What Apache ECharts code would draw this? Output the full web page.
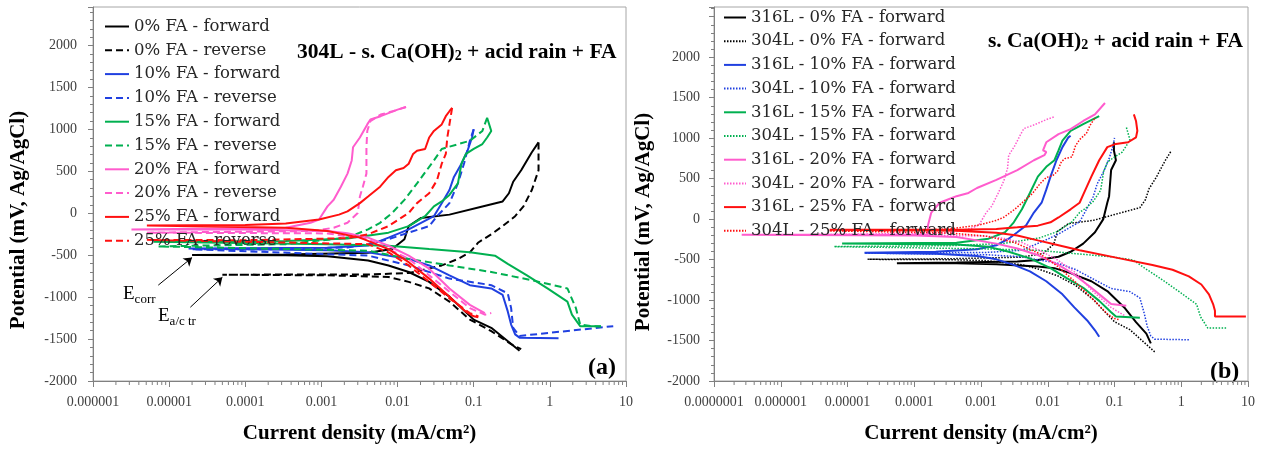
<!DOCTYPE html>
<html>
<head>
<meta charset="utf-8">
<script src="https://cdn.jsdelivr.net/npm/echarts@6/dist/echarts.min.js"></script>
<style>
html,body{margin:0;padding:0;background:#fff;}
#chart{width:1270px;height:449px;}
</style>
</head>
<body>
<div id="chart"></div>
<script>
// tick labels of the two log axes
const xTicksA = ['0.000001', '0.00001', '0.0001', '0.001', '0.01', '0.1', '1', '10'];
const xTicksB = ['0.0000001', '0.000001', '0.00001', '0.0001', '0.001', '0.01', '0.1', '1', '10'];

const faLevels = ['0%', '10%', '15%', '20%', '25%'];
const colors = ['#000000', '#2040e0', '#00b050', '#ff5ccd', '#ff1010'];

// (a) 304L, [current density mA/cm2, potential mV]
const a0Fwd = [[0.40,-1640],[0.17,-1366],[0.1,-1268],[0.048,-994],[0.026,-818],[0.014,-700],[0.0076,-622],[0.0041,-563],[0.0012,-513],[3.4e-4,-501],[2.0e-5,-497],[3.4e-4,-490],[0.0041,-470],[0.0085,-426],[0.0123,-309],[0.014,-153],[0.0204,-55],[0.048,-16],[0.13,82],[0.24,141],[0.29,239],[0.33,376],[0.42,513],[0.50,630],[0.58,728],[0.71,845]];
const a0Rev = [[0.71,845],[0.71,513],[0.58,278],[0.45,82],[0.35,-35],[0.24,-153],[0.17,-250],[0.115,-348],[0.089,-466],[0.062,-544],[0.038,-622],[0.0204,-681],[0.014,-712],[0.0041,-730],[5.0e-5,-732],[0.0012,-740],[0.0076,-759],[0.014,-818],[0.026,-896],[0.048,-1053],[0.089,-1268],[0.17,-1405],[0.31,-1561],[0.42,-1620]];
const a10Fwd = [[1.3,-1491],[0.40,-1483],[0.35,-1444],[0.31,-1327],[0.28,-1170],[0.24,-974],[0.17,-896],[0.089,-857],[0.048,-740],[0.026,-622],[0.014,-544],[0.0041,-466],[0.0012,-440],[1.8e-5,-420],[0.0012,-412],[0.0041,-385],[0.0076,-290],[0.014,-192],[0.03,-35],[0.038,121],[0.048,278],[0.055,434],[0.069,591],[0.083,747],[0.095,904],[0.1,1002]];
const a10Rev = [[0.1,1002],[0.089,865],[0.075,600],[0.062,356],[0.048,121],[0.033,-35],[0.026,-153],[0.014,-231],[0.0076,-309],[0.0041,-368],[0.0022,-407],[3.4e-4,-427],[2.0e-5,-430],[0.0041,-505],[0.014,-622],[0.048,-779],[0.17,-857],[0.28,-955],[0.31,-1131],[0.33,-1366],[0.40,-1463],[6.8,-1346]];
const a15Fwd = [[4.7,-1346],[2.5,-1346],[1.95,-1209],[1.7,-1053],[0.93,-896],[0.50,-740],[0.28,-603],[0.19,-505],[0.089,-466],[0.026,-427],[0.0076,-387],[0.0012,-368],[6.3e-6,-340],[3.4e-4,-329],[0.0022,-301],[0.0076,-231],[0.014,-153],[0.023,-35],[0.030,82],[0.038,141],[0.048,219],[0.062,356],[0.069,591],[0.079,708],[0.1,767],[0.13,826],[0.15,904],[0.17,982],[0.15,1139]];
const a15Rev = [[0.15,1139],[0.13,982],[0.089,865],[0.038,767],[0.030,630],[0.018,356],[0.0123,160],[0.0085,4],[0.0059,-113],[0.0041,-192],[0.0022,-290],[3.4e-4,-368],[7.2e-6,-395],[0.0041,-446],[0.014,-544],[0.048,-622],[0.17,-700],[0.58,-798],[1.7,-896],[2.2,-1131],[2.5,-1327],[3.6,-1346],[4.7,-1350]];
const a20Fwd = [[0.14,-1190],[0.089,-1092],[0.048,-896],[0.026,-661],[0.014,-505],[0.0076,-387],[0.0041,-290],[0.0022,-239],[0.0012,-211],[1e-4,-194],[3.2e-6,-192],[3.4e-4,-172],[7.2e-4,-113],[9.3e-4,-74],[0.0012,82],[0.00145,161],[0.0018,317],[0.0022,473],[0.0025,630],[0.0026,787],[0.0032,904],[0.0040,1060],[0.0044,1119],[0.0060,1158],[0.01,1236],[0.0129,1268]];
const a20Rev = [[0.0129,1268],[0.0089,1220],[0.0060,1177],[0.0044,1100],[0.0040,982],[0.0039,787],[0.0039,473],[0.0035,317],[0.0032,200],[0.0030,4],[0.0022,-113],[0.00145,-172],[8e-4,-211],[5.1e-6,-231],[0.0012,-240],[0.0041,-310],[0.014,-544],[0.048,-935],[0.089,-1131],[0.14,-1209],[0.17,-1190]];
const a25Fwd = [[0.115,-1240],[0.1,-1229],[0.078,-1170],[0.048,-994],[0.026,-779],[0.014,-583],[0.0076,-427],[0.0032,-290],[0.0012,-211],[3.4e-4,-172],[5.1e-6,-145],[1e-4,-141],[3.4e-4,-121],[9.3e-4,-74],[0.0017,-16],[0.0022,23],[0.0032,121],[0.0041,200],[0.0059,317],[0.0076,434],[0.0095,513],[0.012,540],[0.014,591],[0.016,708],[0.018,747],[0.023,767],[0.026,904],[0.03,982],[0.038,1060],[0.043,1158],[0.048,1217],[0.052,1256]];
const a25Rev = [[0.052,1256],[0.048,1060],[0.045,904],[0.043,708],[0.038,591],[0.033,395],[0.026,239],[0.018,121],[0.014,4],[0.0076,-153],[0.0041,-250],[0.0022,-297],[1e-4,-321],[5.1e-6,-317],[0.0041,-368],[0.0076,-466],[0.014,-622],[0.026,-818],[0.048,-1014],[0.089,-1190],[0.115,-1229]];

// (b) 316L forward scans
const b0 = [[0.35,-1535],[0.30,-1414],[0.21,-1273],[0.14,-1091],[0.078,-889],[0.045,-768],[0.022,-667],[0.0126,-606],[0.0071,-586],[0.0017,-558],[4.3e-4,-545],[5.5e-5,-545],[4.3e-4,-537],[0.0035,-525],[0.0071,-505],[0.0145,-465],[0.022,-404],[0.034,-303],[0.051,-162],[0.068,0],[0.078,202],[0.083,283],[0.089,606],[0.105,727],[0.098,848],[0.098,949]];
const b10 = [[0.059,-1454],[0.051,-1374],[0.039,-1252],[0.025,-1091],[0.0166,-929],[0.0095,-768],[0.0054,-646],[0.0031,-566],[0.0017,-497],[8.7e-4,-457],[2.1e-4,-428],[1.8e-5,-416],[2.1e-4,-404],[8.7e-4,-372],[0.0017,-323],[0.0026,-242],[0.0035,-162],[0.0047,-81],[0.0062,81],[0.0081,202],[0.0095,364],[0.011,525],[0.0135,727],[0.0166,889],[0.0204,1010],[0.022,1030]];
const b15 = [[0.24,-1220],[0.105,-1204],[0.089,-1151],[0.059,-1010],[0.034,-848],[0.019,-727],[0.011,-606],[0.0054,-485],[0.0026,-404],[0.0013,-343],[4.3e-4,-315],[8.3e-6,-303],[4.3e-4,-291],[0.0013,-242],[0.0023,-162],[0.0031,-40],[0.0041,121],[0.0054,323],[0.0071,525],[0.0095,646],[0.0126,727],[0.0145,848],[0.0166,970],[0.022,1091],[0.034,1172],[0.059,1273]];
const b20 = [[0.15,-1071],[0.089,-1050],[0.068,-970],[0.045,-848],[0.025,-687],[0.0145,-566],[0.0071,-444],[0.0035,-364],[0.0017,-303],[8.7e-4,-263],[4.3e-4,-222],[1.05e-4,-202],[2.6e-7,-194],[1.6e-4,-190],[1.6e-4,-81],[1.8e-4,81],[2.4e-4,202],[3.2e-4,242],[4.3e-4,283],[6.5e-4,323],[8.7e-4,384],[0.0017,485],[0.0035,606],[0.0062,727],[0.0089,790],[0.0095,830],[0.0085,850],[0.0095,949],[0.0145,1050],[0.022,1111],[0.034,1212],[0.051,1293],[0.072,1434]];
const b25 = [[9.3,-1204],[3.2,-1204],[3.2,-1131],[3.0,-1050],[2.6,-929],[2.0,-808],[1.3,-707],[0.74,-626],[0.37,-566],[0.12,-485],[0.03,-384],[0.0145,-323],[0.0071,-263],[0.0035,-202],[0.0017,-170],[4.3e-4,-145],[5.4e-6,-133],[4.3e-4,-133],[0.0017,-121],[0.0035,-101],[0.0071,-81],[0.011,-40],[0.0145,20],[0.022,121],[0.03,202],[0.034,303],[0.045,525],[0.059,727],[0.078,889],[0.105,929],[0.16,949],[0.21,1010],[0.22,1091],[0.21,1212],[0.195,1293]];

const fwdA = [a0Fwd, a10Fwd, a15Fwd, a20Fwd, a25Fwd];
const revA = [a0Rev, a10Rev, a15Rev, a20Rev, a25Rev];
const fwdB = [b0, b10, b15, b20, b25];

const serif = 'Liberation Serif';
const legendFont = 'DejaVu Serif';
const axisGrey = '#808080';

function line(name, data, color, type, width, axis) {
  return {
    name: name, type: 'line', data: data,
    xAxisIndex: axis, yAxisIndex: axis,
    symbol: 'none', showSymbol: false, animation: false, silent: true,
    itemStyle: {color: color},
    lineStyle: {color: color, width: width, type: type}
  };
}

const series = [];
const namesA = [], namesB = [];
faLevels.forEach(function (fa, k) {
  const nf = fa + ' FA - forward', nr = fa + ' FA - reverse';
  namesA.push(nf, nr);
  series.push(line(nf, fwdA[k], colors[k], 'solid', 2, 0));
  series.push(line(nr, revA[k], colors[k], [7, 4], 2, 0));
});
faLevels.forEach(function (fa, k) {
  const n316 = '316L - ' + fa + ' FA - forward', n304 = '304L - ' + fa + ' FA - forward';
  namesB.push(n316, n304);
  series.push(line(n316, fwdB[k], colors[k], 'solid', 2, 1));
  series.push(line(n304, fwdA[k], colors[k], [1.5, 1.5], 1.5, 1));
});

// arrows for Ecorr and Ea/c tr
series[0].markLine = {
  silent: true, symbol: ['none', 'arrow'], symbolSize: 8,
  label: {show: false},
  lineStyle: {color: '#000', width: 1, type: 'solid'},
  data: [
    [{coord: [7.2e-6, -857]}, {coord: [2.0e-5, -528]}],
    [{coord: [1.9e-5, -1120]}, {coord: [5.0e-5, -763]}]
  ]
};

// log minor ticks (2..9 of each decade) drawn on the x axes
function minorTicks(axis, fromExp, toExp) {
  const ticks = [];
  for (let e = fromExp; e < toExp; e++) {
    for (let m = 2; m <= 9; m++) ticks.push([m * Math.pow(10, e), -2000]);
  }
  return {
    type: 'custom', xAxisIndex: axis, yAxisIndex: axis, silent: true, clip: false, z: 5,
    data: ticks,
    renderItem: function (params, api) {
      const p = api.coord([api.value(0), api.value(1)]);
      return {type: 'line', shape: {x1: p[0], y1: p[1], x2: p[0], y2: p[1] + 4},
              style: {stroke: axisGrey, lineWidth: 1}};
    }
  };
}
series.push(minorTicks(0, -6, 1));
series.push(minorTicks(1, -7, 1));

function xAxis(idx, min, max, splits, labels) {
  return {
    type: 'log', logBase: 10, gridIndex: idx, min: min, max: max, splitNumber: splits,
    name: 'Current density (mA/cm²)', nameLocation: 'middle', nameGap: 42,
    nameTextStyle: {fontFamily: serif, fontWeight: 'bold', fontSize: 21, color: '#000'},
    axisLine: {show: true, onZero: false, lineStyle: {color: axisGrey, width: 1}},
    axisTick: {show: true, length: 6, lineStyle: {color: axisGrey}},
    minorTick: {show: false},
    splitLine: {show: false},
    axisLabel: {
      margin: 14, fontFamily: serif, fontSize: 14, color: '#404040',
      formatter: function (v) { return labels[Math.round(Math.log10(v)) - Math.round(Math.log10(min))]; }
    }
  };
}
function yAxis(idx, max, margin) {
  return {
    type: 'value', gridIndex: idx, min: -2000, max: max, interval: 500,
    axisLine: {show: true, lineStyle: {color: axisGrey, width: 1}},
    axisTick: {show: true, length: 5, lineStyle: {color: axisGrey}},
    minorTick: {show: true, splitNumber: 5, length: 3, lineStyle: {color: axisGrey}},
    splitLine: {show: false},
    axisLabel: {
      margin: margin, fontFamily: serif, fontSize: 14, color: '#404040',
      formatter: function (v) { return (v % 500 === 0 && v <= 2000) ? String(v) : ''; }
    }
  };
}

const subStyle = {fontFamily: serif, fontSize: 14, fontWeight: 'bold', fill: '#000', padding: [9, 0, 0, 0]};
const eSub = {fontFamily: serif, fontSize: 13, fill: '#000', padding: [10, 0, 0, 0]};
const yTitleStyle = {text: 'Potential (mV, Ag/AgCl)', fontFamily: serif, fontSize: 21, fontWeight: 'bold',
                     fill: '#000', align: 'center', verticalAlign: 'middle'};

const legendText = {fontFamily: legendFont, fontSize: 16.5, color: '#262626'};

const chart = echarts.init(document.getElementById('chart'));
chart.setOption({
  backgroundColor: '#fff',
  animation: false,
  grid: [
    {left: 93, top: 7, width: 533, height: 380, show: true, borderColor: '#a6a6a6', borderWidth: 1, backgroundColor: 'transparent'},
    {left: 714, top: 7, width: 534, height: 381, show: true, borderColor: '#a6a6a6', borderWidth: 1, backgroundColor: 'transparent'}
  ],
  xAxis: [xAxis(0, 1e-6, 10, 7, xTicksA), xAxis(1, 1e-7, 10, 8, xTicksB)],
  yAxis: [yAxis(0, 2460, 16), yAxis(1, 2620, 14)],
  legend: [
    {orient: 'vertical', left: 104, top: 18, itemWidth: 24, itemHeight: 14, itemGap: 6.8, padding: 0,
     itemStyle: {opacity: 0}, selectedMode: false, data: namesA, textStyle: legendText},
    {orient: 'vertical', left: 723, top: 9, itemWidth: 22, itemHeight: 14, itemGap: 6.7, padding: 0,
     itemStyle: {opacity: 0}, selectedMode: false, data: namesB, textStyle: legendText}
  ],
  graphic: [
    {type: 'text', x: 19, y: 220, rotation: Math.PI / 2, style: yTitleStyle},
    {type: 'text', x: 644, y: 222, rotation: Math.PI / 2, style: yTitleStyle},
    {type: 'text', left: 297, top: 41, style: {
      text: '304L - s. Ca(OH){s|2} + acid rain + FA', fontFamily: serif, fontSize: 21.5, fontWeight: 'bold', fill: '#000',
      rich: {s: subStyle}}},
    {type: 'text', left: 988, top: 30, style: {
      text: 's. Ca(OH){s|2} + acid rain + FA', fontFamily: serif, fontSize: 21.5, fontWeight: 'bold', fill: '#000',
      rich: {s: subStyle}}},
    {type: 'text', left: 588, top: 356, style: {text: '(a)', fontFamily: serif, fontSize: 24, fontWeight: 'bold', fill: '#000'}},
    {type: 'text', left: 1210, top: 360, style: {text: '(b)', fontFamily: serif, fontSize: 24, fontWeight: 'bold', fill: '#000'}},
    {type: 'text', left: 123, top: 285, style: {text: 'E{s|corr}', fontFamily: serif, fontSize: 19, fill: '#000', rich: {s: eSub}}},
    {type: 'text', left: 158, top: 307, style: {text: 'E{s|a/c tr}', fontFamily: serif, fontSize: 19, fill: '#000', rich: {s: eSub}}}
  ],
  series: series
});
</script>
</body>
</html>
